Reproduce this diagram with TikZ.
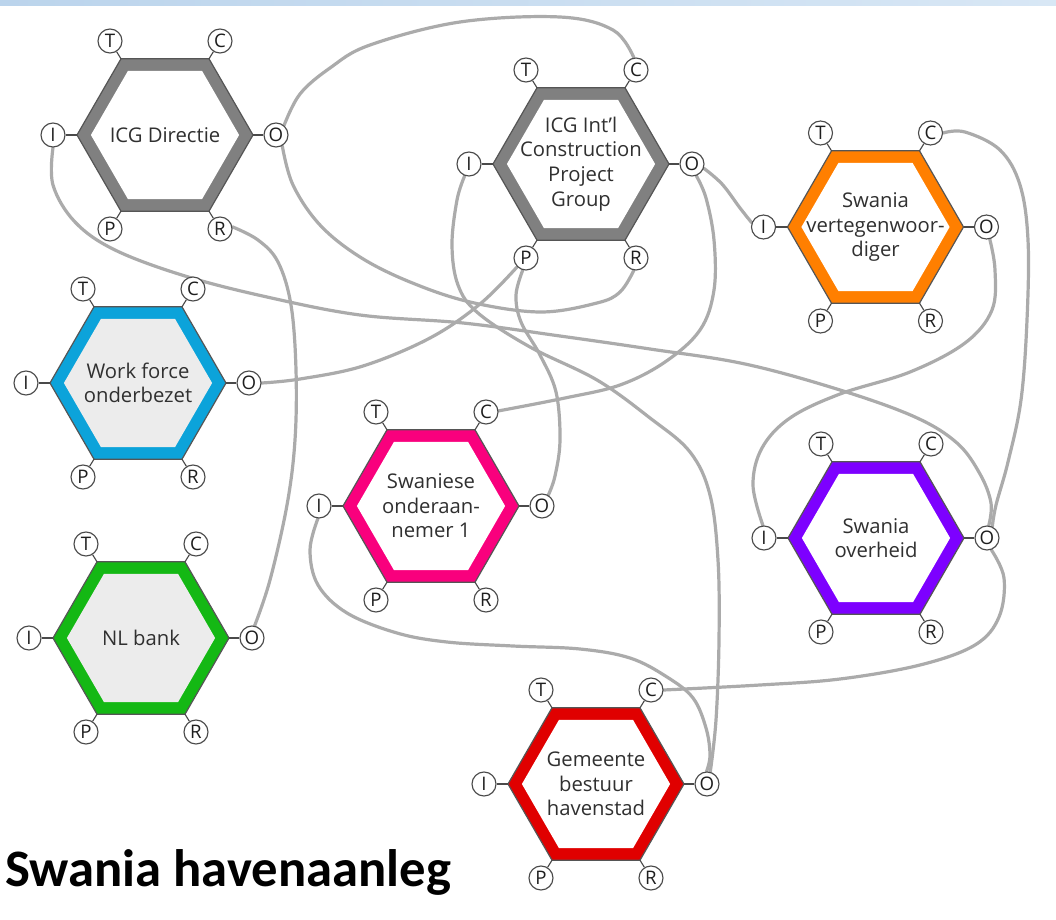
\documentclass[tikz,border=0pt]{standalone}
\usepackage{fontspec}
\setmainfont{Open Sans}
\newfontfamily\titlefont{Carlito}
\pgfdeclarelayer{paper}
\pgfdeclarelayer{wires}
\pgfsetlayers{paper,wires,main}

\definecolor{hexgray}{HTML}{808080}
\definecolor{hexblue}{HTML}{0CA3DA}
\definecolor{hexorange}{HTML}{FF7F00}
\definecolor{hexpink}{HTML}{F9007D}
\definecolor{hexpurple}{HTML}{7D00FF}
\definecolor{hexgreen}{HTML}{14B814}
\definecolor{hexred}{HTML}{E00000}
\definecolor{softfill}{HTML}{ECECEC}
\definecolor{edgedark}{HTML}{555555}
\definecolor{portedge}{HTML}{4A4A4A}
\definecolor{porttext}{HTML}{1E1E1E}
\definecolor{labeltext}{HTML}{303030}
\definecolor{wiregray}{HTML}{ABABAB}
\definecolor{bandleft}{HTML}{BBD4EC}
\definecolor{bandright}{HTML}{D8E7F5}

\tikzset{
  port/.style={circle, draw=portedge, line width=0.85pt, fill=white,
    minimum size=18pt, inner sep=0pt, font=\fontsize{14}{14}\selectfont, text=porttext},
  stub/.style={draw=portedge, line width=0.85pt},
  hexlabel/.style={align=center, inner sep=0pt,
    font=\fontsize{15.2}{18.4}\selectfont, text=labeltext},
  hexband/.style={draw=edgedark, line width=0.9pt, line join=miter},
  wire/.style={draw=wiregray, line width=2.4pt, line cap=round, line join=round},
}

% FRAM function: #1 name, #2 centre, #3 band colour, #4 inner fill, #5 label
\newcommand\fhex[5]{%
  \begin{scope}[shift={#2}]
    \filldraw[hexband, fill=#3] (-88,0) -- (-44,-76.2) -- (44,-76.2) -- (88,0)
      -- (44,76.2) -- (-44,76.2) -- cycle;
    \fill[#4] (-74.1,0) -- (-37,-64.2) -- (37,-64.2) -- (74.1,0)
      -- (37,64.2) -- (-37,64.2) -- cycle;
    \node[hexlabel] (#1) at (0,0) {#5};
    \node[port] (#1T) at (-55,-94) {T};
    \node[port] (#1C) at (55,-94) {C};
    \node[port] (#1I) at (-112,0) {I};
    \node[port] (#1O) at (111,0) {O};
    \node[port] (#1P) at (-55,94) {P};
    \node[port] (#1R) at (55,94) {R};
    \draw[stub] (#1T) -- (-44,-76.2);
    \draw[stub] (#1C) -- (44,-76.2);
    \draw[stub] (#1I) -- (-88,0);
    \draw[stub] (#1O) -- (88,0);
    \draw[stub] (#1P) -- (-44,76.2);
    \draw[stub] (#1R) -- (44,76.2);
  \end{scope}}

\begin{document}
\begin{tikzpicture}[x=0.75pt, y=-0.75pt]
  \useasboundingbox (0,0) rectangle (1056,920);
  \begin{pgfonlayer}{paper}
    \fill[white] (0,0) rectangle (1056,920);
    \shade[left color=bandleft, right color=bandright] (0,0) rectangle (1056,6);
  \end{pgfonlayer}

  % functions
  \fhex{dir}{(165,135)}{hexgray}{white}{ICG Directie}
  \fhex{int}{(581,164)}{hexgray}{white}{ICG Int’l\\Construction\\Project\\Group}
  \fhex{vert}{(875.5,227)}{hexorange}{white}{Swania\\vertegenwoor-\\diger}
  \fhex{work}{(138,383)}{hexblue}{softfill}{Work force\\onderbezet}
  \fhex{swa}{(431,506)}{hexpink}{white}{Swaniese\\onderaan-\\nemer 1}
  \fhex{over}{(876,538)}{hexpurple}{white}{Swania\\overheid}
  \fhex{bank}{(141,638)}{hexgreen}{softfill}{NL bank}
  \fhex{gem}{(596,784)}{hexred}{white}{Gemeente\\bestuur\\havenstad}

  \node[anchor=base west, inner sep=0pt,
    font=\titlefont\bfseries\fontsize{39.5}{44}\selectfont] (title) at (5,886)
    {Swania havenaanleg};

  % couplings between the functions
  \begin{pgfonlayer}{wires}
    \draw[wire] plot[smooth, tension=0.6] coordinates {(dirO.50) (300,94) (330,68)
      (370,45) (460,22) (560,17) (613,30) (intC.100)};
    \draw[wire] plot[smooth, tension=0.6] coordinates {(dirO.-60) (293,185) (320,225)
      (360,257) (410,282) (470,302) (540,312) (597,303) (620,292) (intR.-100)};
    \draw[wire] plot[smooth, tension=0.6] coordinates {(dirI.-90) (53,185) (75,222)
      (115,250) (185,276) (267,297) (360,315) (463,323) (560,336) (650,349)
      (745,364) (840,390) (915,417) (957,443) (980,474) (991,503) (overO.82)};
    \draw[wire] plot[smooth, tension=0.6] coordinates {(dirR.10) (258,240) (278,262)
      (291,305) (296,370) (295,440) (287,505) (270,580) (bankO.78)};
    \draw[wire] plot[smooth, tension=0.6] coordinates {(workO.0) (300,379) (363,366)
      (430,338) (480,304) (intP.-135)};
    \draw[wire] plot[smooth, tension=0.6] coordinates {(intI.-110) (457,200) (452,245)
      (458,285) (478,313) (530,347) (597,380) (650,418) (690,452) (710,495)
      (718,560) (719,640) (716,720) (gemO.75)};
    \draw[wire] plot[smooth, tension=0.6] coordinates {(intP.-105) (516,295) (521,322)
      (540,355) (556,392) (560,440) (555,476) (swaO.60)};
    \draw[wire] plot[smooth, tension=0.6] coordinates {(intO.-70) (706,198) (714,240)
      (714,290) (700,330) (665,362) (620,385) (565,398) (swaC.5)};
    \draw[wire] plot[smooth, tension=0.6] coordinates {(intO.-20) (722,184) (740,208)
      (vertI.160)};
    \draw[wire] plot[smooth, tension=0.6] coordinates {(vertC.0) (965,132) (1000,150)
      (1020,185) (1028,240) (1027,320) (1021,400) (1008,462) (996,505) (overO.65)};
    \draw[wire] plot[smooth, tension=0.6] coordinates {(vertO.-75) (995,270) (992,310)
      (965,343) (910,372) (840,394) (790,418) (762,448) (753,485) (overI.95)};
    \draw[wire] plot[smooth, tension=0.6] coordinates {(overO.-70) (1004,578) (999,617)
      (975,645) (920,665) (840,679) (760,685) (gemC.0)};
    \draw[wire] plot[smooth, tension=0.6] coordinates {(swaI.-95) (310,550) (318,585)
      (347,613) (397,633) (447,642) (513,646) (580,649) (630,658) (667,677)
      (693,698) (706,728) (710,755) (gemO.92)};
  \end{pgfonlayer}
\end{tikzpicture}
\end{document}
